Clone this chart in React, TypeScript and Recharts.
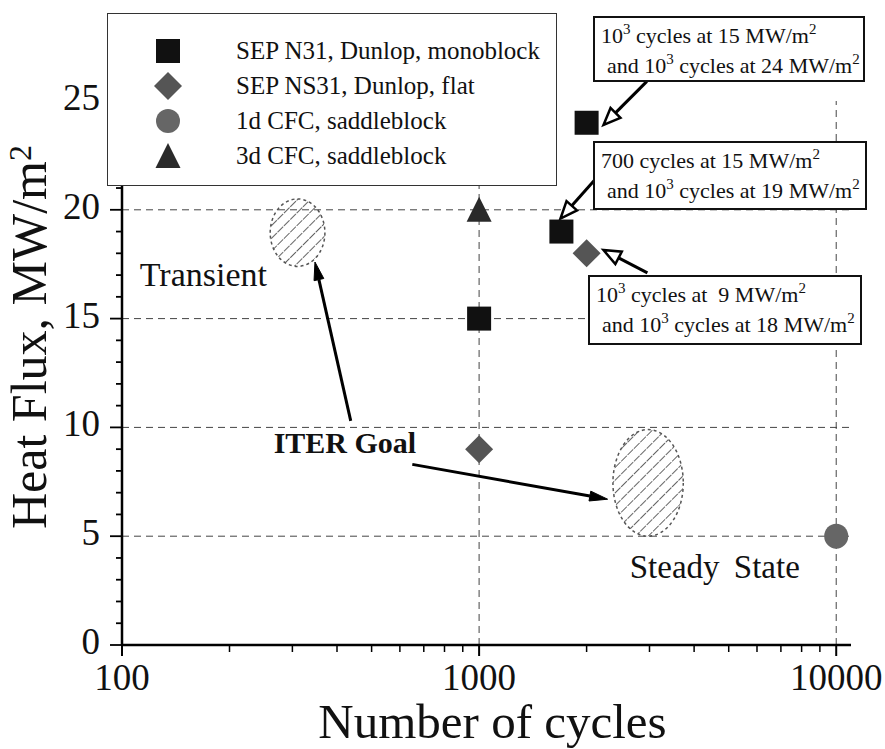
import React from "react";
import { ScatterChart, Scatter, XAxis, YAxis, ReferenceLine, ReferenceArea, ReferenceDot } from "recharts";

const SERIF = '"Liberation Serif", "Times New Roman", serif';

// series values
const monoX = [1000, 1700, 2000];
const monoY = [15, 19, 24];
const flatX = [1000, 2000];
const flatY = [9, 18];
const cfc1X = [10000];
const cfc1Y = [5];
const cfc3X = [1000];
const cfc3Y = [20];

const seriesNames = [
  "SEP N31, Dunlop, monoblock",
  "SEP NS31, Dunlop, flat",
  "1d CFC, saddleblock",
  "3d CFC, saddleblock",
];

// axis ticks
const xMajor = [100, 1000, 10000];
const xTicks = [100, 200, 300, 400, 500, 600, 700, 800, 900, 1000, 2000, 3000, 4000, 5000, 6000, 7000, 8000, 9000, 10000];
const yMajor = [0, 5, 10, 15, 20, 25];
const yTicks = [0, 1, 2, 3, 4, 5, 6, 7, 8, 9, 10, 11, 12, 13, 14, 15, 16, 17, 18, 19, 20, 21, 22, 23, 24, 25];
const gridX = [1000, 10000];
const gridY = [5, 10, 15, 20];

// ITER goal regions (x1, x2, y1, y2)
const transientZone = [260, 370, 17.4, 20.5];
const steadyZone = [2370, 3730, 5, 9.9];

// arrows: [fromX, fromY, toX, toY]
const iterArrows = [
  [437, 10.3, 347, 17.6],
  [650, 8.3, 2290, 6.7],
];
const noteArrows = [
  [2950, 25.9, 2230, 23.9],
  [2140, 21.5, 1690, 19.6],
  [2960, 17.1, 2230, 18.15],
];

const toPts = (xs: number[], ys: number[]) => xs.map((x, i) => ({ x, y: ys[i] }));

const Square = (p: any) => <rect x={p.cx - 12} y={p.cy - 12} width={24} height={24} fill="#111" />;
const Diamond = (p: any) => (
  <polygon points={`${p.cx},${p.cy - 14} ${p.cx + 14},${p.cy} ${p.cx},${p.cy + 14} ${p.cx - 14},${p.cy}`} fill="#555" />
);
const Circle = (p: any) => <ellipse cx={p.cx} cy={p.cy} rx={12} ry={12.5} fill="#666" />;
const Triangle = (p: any) => (
  <polygon points={`${p.cx},${p.cy - 13} ${p.cx + 12.5},${p.cy + 12} ${p.cx - 12.5},${p.cy + 12}`} fill="#2a2a2a" />
);

const BottomTick = (p: any) => {
  const major = xMajor.includes(p.payload.value);
  return (
    <g>
      <line x1={p.x} x2={p.x} y1={p.y} y2={p.y + (major ? 11 : 7)} stroke="#000" strokeWidth={major ? 2 : 1.5} />
      {major && (
        <text x={p.x} y={p.y + 45} textAnchor="middle" fontFamily={SERIF} fontSize={37} fill="#111">
          {p.payload.value}
        </text>
      )}
    </g>
  );
};

const TopTick = (p: any) => {
  const major = xMajor.includes(p.payload.value);
  return <line x1={p.x} x2={p.x} y1={p.y} y2={p.y - (major ? 13 : 6)} stroke="#000" strokeWidth={1.5} />;
};

const LeftTick = (p: any) => {
  const major = yMajor.includes(p.payload.value);
  return (
    <g>
      <line x1={p.x - (major ? 12 : 6)} x2={p.x} y1={p.y} y2={p.y} stroke="#000" strokeWidth={1.8} />
      {major && (
        <text x={p.x - 22} y={p.y + 9} textAnchor="end" fontFamily={SERIF} fontSize={37} fill="#111">
          {p.payload.value}
        </text>
      )}
    </g>
  );
};

const RightTick = (p: any) => <line x1={p.x} x2={p.x + 5} y1={p.y} y2={p.y} stroke="#000" strokeWidth={1.8} />;

const XTitle = (p: any) => {
  const vb = p.viewBox;
  return (
    <text x={vb.x + vb.width / 2 + 6} y={vb.y + 93} textAnchor="middle" fontFamily={SERIF} fontSize={49} fill="#111">
      Number of cycles
    </text>
  );
};

const YTitle = () => (
  <text x={46} y={337} transform="rotate(-90, 46, 337)" textAnchor="middle" fontFamily={SERIF} fontSize={50} fill="#111">
    Heat Flux, MW/m<tspan dy={-15} fontSize={32}>2</tspan>
  </text>
);

let hatchCount = 0;
const HatchEllipse = (p: any) => {
  const id = `hatch${hatchCount++}`;
  const cx = p.x + p.width / 2;
  const cy = p.y + p.height / 2;
  return (
    <g>
      <defs>
        <pattern id={id} width={9} height={9} patternUnits="userSpaceOnUse" patternTransform="rotate(45)">
          <line x1={0} y1={0} x2={0} y2={9} stroke="#222" strokeWidth={1.4} strokeDasharray="4 1" />
        </pattern>
      </defs>
      <ellipse cx={cx} cy={cy} rx={p.width / 2} ry={p.height / 2} fill={`url(#${id})`} stroke="#555" strokeWidth={1.5} strokeDasharray="3 3" />
    </g>
  );
};

const arrowShape = (open: boolean) => (p: any) => {
  const { x1, y1, x2, y2 } = p;
  const dx = x2 - x1;
  const dy = y2 - y1;
  const len = Math.sqrt(dx * dx + dy * dy);
  const ux = dx / len;
  const uy = dy / len;
  const hl = open ? 17 : 18;
  const hw = open ? 7 : 5;
  const bx = x2 - ux * hl;
  const by = y2 - uy * hl;
  const pts = `${x2},${y2} ${bx - uy * hw},${by + ux * hw} ${bx + uy * hw},${by - ux * hw}`;
  return (
    <g>
      <line x1={x1} y1={y1} x2={bx} y2={by} stroke="#000" strokeWidth={3} />
      <polygon points={pts} fill={open ? "#fff" : "#000"} stroke="#000" strokeWidth={open ? 2.5 : 1} />
    </g>
  );
};

const labelShape = (text: string, size: number, bold = false, wordSpacing = 0) => (p: any) => (
  <text x={p.cx} y={p.cy} dy={size * 0.34} textAnchor="middle" fontFamily={SERIF} fontSize={size}
    fontWeight={bold ? 700 : 400} fill="#111" style={{ wordSpacing }}>
    {text}
  </text>
);

const legendMarkers = [
  <rect x={3} y={3} width={24} height={24} fill="#111" />,
  <polygon points="15,1 29,15 15,29 1,15" fill="#555" />,
  <circle cx={15} cy={15} r={12} fill="#666" />,
  <polygon points="15,2 27.5,27 2.5,27" fill="#2a2a2a" />,
];

const boxStyle: React.CSSProperties = {
  position: "absolute",
  background: "#fff",
  border: "2px solid #111",
  fontFamily: SERIF,
  fontSize: 22,
  lineHeight: "28px",
  color: "#111",
  whiteSpace: "pre",
  padding: "4px 6px 4px 6px",
  boxSizing: "border-box",
};

const Note = ({ left, top, width, height, l1, l2 }: any) => (
  <div style={{ ...boxStyle, left, top, width, height }}>
    <div>{l1}</div>
    <div style={{ paddingLeft: 6 }}>{l2}</div>
  </div>
);

const supStyle: React.CSSProperties = { fontSize: 15, verticalAlign: 0, position: "relative", top: -9 };
const MW = (
  <>
    MW/m<sup style={supStyle}>2</sup>
  </>
);
const T3 = <sup style={supStyle}>3</sup>;

export default function App() {
  hatchCount = 0;
  return (
    <div style={{ position: "absolute", left: 0, top: 0, width: 885, height: 749, background: "#fff" }}>
      <ScatterChart width={885} height={749} margin={{ top: 101, right: 34, bottom: 0, left: 0 }}>
        <XAxis xAxisId="b" dataKey="x" type="number" scale="log" domain={[100, 11000]} ticks={xTicks} interval={0}
          allowDataOverflow orientation="bottom" height={104} tickSize={0} tickMargin={0} tickLine={false}
          axisLine={{ stroke: "#000", strokeWidth: 2.5 }} tick={BottomTick} label={XTitle} />
        <XAxis xAxisId="t" type="number" scale="log" domain={[100, 11000]} ticks={xTicks} interval={0}
          allowDataOverflow orientation="top" height={0} tickSize={0} tickMargin={0} tickLine={false}
          axisLine={{ stroke: "#000", strokeWidth: 2 }} tick={TopTick} />
        <YAxis yAxisId="l" dataKey="y" type="number" domain={[0, 25]} ticks={yTicks} interval={0} width={122}
          tickSize={0} tickMargin={0} tickLine={false} axisLine={{ stroke: "#000", strokeWidth: 2.5 }}
          tick={LeftTick} label={YTitle} />
        <YAxis yAxisId="r" orientation="right" type="number" domain={[0, 25]} ticks={yTicks} interval={0} width={0}
          tickSize={0} tickMargin={0} tickLine={false} axisLine={{ stroke: "#000", strokeWidth: 2 }} tick={RightTick} />

        {gridY.map((v) => (
          <ReferenceLine key={`gy${v}`} xAxisId="b" yAxisId="l" y={v} stroke="#444" strokeWidth={1} strokeDasharray="7 5" />
        ))}
        {gridX.map((v) => (
          <ReferenceLine key={`gx${v}`} xAxisId="b" yAxisId="l" x={v} stroke="#444" strokeWidth={1} strokeDasharray="7 5" />
        ))}

        <ReferenceArea xAxisId="b" yAxisId="l" x1={transientZone[0]} x2={transientZone[1]} y1={transientZone[2]} y2={transientZone[3]} shape={HatchEllipse} />
        <ReferenceArea xAxisId="b" yAxisId="l" x1={steadyZone[0]} x2={steadyZone[1]} y1={steadyZone[2]} y2={steadyZone[3]} shape={HatchEllipse} />

        {iterArrows.map((a, i) => (
          <ReferenceLine key={`ia${i}`} xAxisId="b" yAxisId="l" ifOverflow="visible"
            segment={[{ x: a[0], y: a[1] }, { x: a[2], y: a[3] }]} shape={arrowShape(false)} />
        ))}
        {noteArrows.map((a, i) => (
          <ReferenceLine key={`na${i}`} xAxisId="b" yAxisId="l" ifOverflow="visible"
            segment={[{ x: a[0], y: a[1] }, { x: a[2], y: a[3] }]} shape={arrowShape(true)} />
        ))}

        <ReferenceDot xAxisId="b" yAxisId="l" x={169} y={17.05} r={0} shape={labelShape("Transient", 34)} />
        <ReferenceDot xAxisId="b" yAxisId="l" x={421} y={9.28} r={0} shape={labelShape("ITER Goal", 30, true)} />
        <ReferenceDot xAxisId="b" yAxisId="l" x={4570} y={3.58} r={0} shape={labelShape("Steady State", 33, false, 6)} />

        <Scatter name={seriesNames[0]} xAxisId="b" yAxisId="l" data={toPts(monoX, monoY)} shape={Square} isAnimationActive={false} />
        <Scatter name={seriesNames[1]} xAxisId="b" yAxisId="l" data={toPts(flatX, flatY)} shape={Diamond} isAnimationActive={false} />
        <Scatter name={seriesNames[2]} xAxisId="b" yAxisId="l" data={toPts(cfc1X, cfc1Y)} shape={Circle} isAnimationActive={false} />
        <Scatter name={seriesNames[3]} xAxisId="b" yAxisId="l" data={toPts(cfc3X, cfc3Y)} shape={Triangle} isAnimationActive={false} />
      </ScatterChart>

      {/* legend */}
      <div style={{ position: "absolute", left: 107, top: 13, width: 450, height: 173, background: "#fff",
        border: "1.5px solid #333", boxSizing: "border-box" }}>
        {seriesNames.map((n, i) => (
          <div key={n} style={{ position: "absolute", left: 0, top: 20 + i * 35, height: 34, display: "flex", alignItems: "center" }}>
            <svg width={30} height={30} style={{ marginLeft: 45 }}>{legendMarkers[i]}</svg>
            <span style={{ marginLeft: 53, fontFamily: SERIF, fontSize: 25, color: "#111", whiteSpace: "pre" }}>{n}</span>
          </div>
        ))}
      </div>

      <Note left={593} top={16} width={272} height={66} l1={<>10{T3} cycles at 15 {MW}</>} l2={<>and 10{T3} cycles at 24 {MW}</>} />
      <Note left={593} top={141} width={274} height={69} l1={<>700 cycles at 15 {MW}</>} l2={<>and 10{T3} cycles at 19 {MW}</>} />
      <Note left={588} top={275} width={274} height={70} l1={<>10{T3} cycles at  9 {MW}</>} l2={<>and 10{T3} cycles at 18 {MW}</>} />
    </div>
  );
}
